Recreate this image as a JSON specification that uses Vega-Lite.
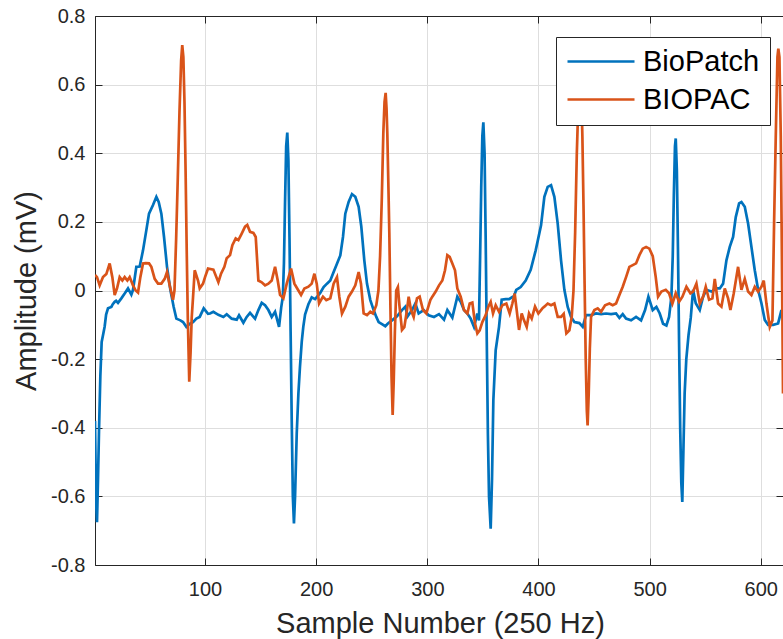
{
  "$schema": "https://vega.github.io/schema/vega-lite/v6.json",
  "width": 688,
  "height": 549,
  "autosize": {"type": "none"},
  "padding": {"left": 95, "top": 16, "right": 0, "bottom": 74},
  "background": "white",
  "config": {
    "view": {"stroke": "#262626", "strokeWidth": 1},
    "font": "Liberation Sans",
    "axis": {
      "labelFont": "Liberation Sans",
      "titleFont": "Liberation Sans",
      "labelColor": "#262626",
      "titleColor": "#262626",
      "domainColor": "#262626",
      "tickColor": "#262626",
      "gridColor": "#dedede",
      "gridWidth": 1,
      "titleFontWeight": "normal",
      "labelFontSize": 20,
      "titleFontSize": 29
    }
  },
  "datasets": {
    "biopatch": [
      {"x":1,"y":-0.38,"c":"BioPatch"},{"x":2,"y":-0.62,"c":"BioPatch"},{"x":2.8,"y":-0.675,"c":"BioPatch"},{"x":3.7,"y":-0.55,"c":"BioPatch"},{"x":4.6,"y":-0.41,"c":"BioPatch"},{"x":5.8,"y":-0.25,"c":"BioPatch"},{"x":7,"y":-0.15,"c":"BioPatch"},{"x":8.5,"y":-0.125,"c":"BioPatch"},{"x":9.7,"y":-0.105,"c":"BioPatch"},{"x":11,"y":-0.07,"c":"BioPatch"},{"x":12.7,"y":-0.052,"c":"BioPatch"},{"x":15.7,"y":-0.048,"c":"BioPatch"},{"x":17,"y":-0.04,"c":"BioPatch"},{"x":18.7,"y":-0.033,"c":"BioPatch"},{"x":20,"y":-0.03,"c":"BioPatch"},{"x":21.7,"y":-0.036,"c":"BioPatch"},{"x":24.7,"y":-0.023,"c":"BioPatch"},{"x":27.7,"y":-0.009,"c":"BioPatch"},{"x":30.7,"y":0.006,"c":"BioPatch"},{"x":33.7,"y":-0.012,"c":"BioPatch"},{"x":35.2,"y":0.002,"c":"BioPatch"},{"x":38.2,"y":0.069,"c":"BioPatch"},{"x":41.2,"y":0.07,"c":"BioPatch"},{"x":44.2,"y":0.117,"c":"BioPatch"},{"x":47.2,"y":0.176,"c":"BioPatch"},{"x":49.6,"y":0.224,"c":"BioPatch"},{"x":53.2,"y":0.249,"c":"BioPatch"},{"x":56.2,"y":0.273,"c":"BioPatch"},{"x":58.3,"y":0.258,"c":"BioPatch"},{"x":60.7,"y":0.224,"c":"BioPatch"},{"x":63.1,"y":0.156,"c":"BioPatch"},{"x":65.8,"y":0.069,"c":"BioPatch"},{"x":68.8,"y":0.002,"c":"BioPatch"},{"x":71.8,"y":-0.048,"c":"BioPatch"},{"x":74.2,"y":-0.082,"c":"BioPatch"},{"x":77.8,"y":-0.087,"c":"BioPatch"},{"x":80.2,"y":-0.092,"c":"BioPatch"},{"x":83.2,"y":-0.106,"c":"BioPatch"},{"x":86.2,"y":-0.097,"c":"BioPatch"},{"x":89.2,"y":-0.092,"c":"BioPatch"},{"x":92.2,"y":-0.082,"c":"BioPatch"},{"x":95.2,"y":-0.077,"c":"BioPatch"},{"x":98.8,"y":-0.052,"c":"BioPatch"},{"x":102.7,"y":-0.068,"c":"BioPatch"},{"x":104.5,"y":-0.067,"c":"BioPatch"},{"x":107.5,"y":-0.062,"c":"BioPatch"},{"x":112,"y":-0.071,"c":"BioPatch"},{"x":116.5,"y":-0.077,"c":"BioPatch"},{"x":119.5,"y":-0.069,"c":"BioPatch"},{"x":124,"y":-0.082,"c":"BioPatch"},{"x":128.5,"y":-0.085,"c":"BioPatch"},{"x":130.6,"y":-0.072,"c":"BioPatch"},{"x":134.5,"y":-0.094,"c":"BioPatch"},{"x":137.5,"y":-0.077,"c":"BioPatch"},{"x":140.5,"y":-0.065,"c":"BioPatch"},{"x":145,"y":-0.082,"c":"BioPatch"},{"x":148,"y":-0.057,"c":"BioPatch"},{"x":151,"y":-0.036,"c":"BioPatch"},{"x":154,"y":-0.043,"c":"BioPatch"},{"x":157,"y":-0.057,"c":"BioPatch"},{"x":160,"y":-0.077,"c":"BioPatch"},{"x":163,"y":-0.062,"c":"BioPatch"},{"x":166.6,"y":-0.106,"c":"BioPatch"},{"x":168.5,"y":-0.05,"c":"BioPatch"},{"x":170,"y":-0.018,"c":"BioPatch"},{"x":171,"y":0.08,"c":"BioPatch"},{"x":172,"y":0.26,"c":"BioPatch"},{"x":173,"y":0.42,"c":"BioPatch"},{"x":174,"y":0.46,"c":"BioPatch"},{"x":175,"y":0.38,"c":"BioPatch"},{"x":176,"y":0.15,"c":"BioPatch"},{"x":177,"y":-0.12,"c":"BioPatch"},{"x":178,"y":-0.38,"c":"BioPatch"},{"x":179,"y":-0.6,"c":"BioPatch"},{"x":180,"y":-0.679,"c":"BioPatch"},{"x":181,"y":-0.6,"c":"BioPatch"},{"x":182.5,"y":-0.417,"c":"BioPatch"},{"x":184,"y":-0.3,"c":"BioPatch"},{"x":185.4,"y":-0.223,"c":"BioPatch"},{"x":187,"y":-0.15,"c":"BioPatch"},{"x":188.4,"y":-0.106,"c":"BioPatch"},{"x":190,"y":-0.07,"c":"BioPatch"},{"x":193,"y":-0.04,"c":"BioPatch"},{"x":196,"y":-0.02,"c":"BioPatch"},{"x":199,"y":-0.025,"c":"BioPatch"},{"x":203.5,"y":-0.008,"c":"BioPatch"},{"x":206.7,"y":0.01,"c":"BioPatch"},{"x":209.7,"y":0.02,"c":"BioPatch"},{"x":212.7,"y":0.029,"c":"BioPatch"},{"x":215.7,"y":0.054,"c":"BioPatch"},{"x":218.7,"y":0.078,"c":"BioPatch"},{"x":221.7,"y":0.102,"c":"BioPatch"},{"x":224.1,"y":0.156,"c":"BioPatch"},{"x":226.2,"y":0.224,"c":"BioPatch"},{"x":229.2,"y":0.258,"c":"BioPatch"},{"x":232.2,"y":0.281,"c":"BioPatch"},{"x":235.2,"y":0.273,"c":"BioPatch"},{"x":238.2,"y":0.244,"c":"BioPatch"},{"x":240.6,"y":0.186,"c":"BioPatch"},{"x":243.3,"y":0.088,"c":"BioPatch"},{"x":245.7,"y":0.02,"c":"BioPatch"},{"x":248.7,"y":-0.028,"c":"BioPatch"},{"x":251.7,"y":-0.057,"c":"BioPatch"},{"x":254.1,"y":-0.077,"c":"BioPatch"},{"x":256.2,"y":-0.092,"c":"BioPatch"},{"x":259.2,"y":-0.098,"c":"BioPatch"},{"x":262.2,"y":-0.104,"c":"BioPatch"},{"x":264.3,"y":-0.097,"c":"BioPatch"},{"x":268.2,"y":-0.087,"c":"BioPatch"},{"x":272.7,"y":-0.075,"c":"BioPatch"},{"x":277.2,"y":-0.057,"c":"BioPatch"},{"x":280.2,"y":-0.047,"c":"BioPatch"},{"x":282.3,"y":-0.075,"c":"BioPatch"},{"x":286.2,"y":-0.057,"c":"BioPatch"},{"x":289.2,"y":-0.038,"c":"BioPatch"},{"x":292.2,"y":-0.067,"c":"BioPatch"},{"x":296.7,"y":-0.057,"c":"BioPatch"},{"x":301.2,"y":-0.072,"c":"BioPatch"},{"x":306,"y":-0.077,"c":"BioPatch"},{"x":310.5,"y":-0.069,"c":"BioPatch"},{"x":315,"y":-0.085,"c":"BioPatch"},{"x":318,"y":-0.057,"c":"BioPatch"},{"x":322.5,"y":-0.079,"c":"BioPatch"},{"x":327,"y":-0.018,"c":"BioPatch"},{"x":330,"y":-0.033,"c":"BioPatch"},{"x":333,"y":-0.057,"c":"BioPatch"},{"x":336,"y":-0.067,"c":"BioPatch"},{"x":339,"y":-0.082,"c":"BioPatch"},{"x":342,"y":-0.106,"c":"BioPatch"},{"x":345,"y":-0.067,"c":"BioPatch"},{"x":346.5,"y":-0.087,"c":"BioPatch"},{"x":347.5,"y":0.1,"c":"BioPatch"},{"x":348.5,"y":0.3,"c":"BioPatch"},{"x":349.5,"y":0.45,"c":"BioPatch"},{"x":350.4,"y":0.49,"c":"BioPatch"},{"x":351.5,"y":0.4,"c":"BioPatch"},{"x":352.5,"y":0.15,"c":"BioPatch"},{"x":353.5,"y":-0.15,"c":"BioPatch"},{"x":354.5,"y":-0.42,"c":"BioPatch"},{"x":355.5,"y":-0.6,"c":"BioPatch"},{"x":357,"y":-0.694,"c":"BioPatch"},{"x":358.2,"y":-0.55,"c":"BioPatch"},{"x":359.4,"y":-0.32,"c":"BioPatch"},{"x":361.5,"y":-0.174,"c":"BioPatch"},{"x":364.5,"y":-0.106,"c":"BioPatch"},{"x":366.9,"y":-0.027,"c":"BioPatch"},{"x":370.5,"y":-0.025,"c":"BioPatch"},{"x":373.5,"y":-0.025,"c":"BioPatch"},{"x":378,"y":-0.016,"c":"BioPatch"},{"x":380,"y":0.002,"c":"BioPatch"},{"x":384,"y":0.01,"c":"BioPatch"},{"x":388.5,"y":0.029,"c":"BioPatch"},{"x":393,"y":0.06,"c":"BioPatch"},{"x":397.5,"y":0.117,"c":"BioPatch"},{"x":402.3,"y":0.19,"c":"BioPatch"},{"x":405.3,"y":0.273,"c":"BioPatch"},{"x":408.3,"y":0.302,"c":"BioPatch"},{"x":411.3,"y":0.307,"c":"BioPatch"},{"x":414.3,"y":0.273,"c":"BioPatch"},{"x":417.3,"y":0.195,"c":"BioPatch"},{"x":420.3,"y":0.088,"c":"BioPatch"},{"x":423.3,"y":0.002,"c":"BioPatch"},{"x":426.3,"y":-0.048,"c":"BioPatch"},{"x":429.3,"y":-0.077,"c":"BioPatch"},{"x":432.3,"y":-0.092,"c":"BioPatch"},{"x":436.8,"y":-0.095,"c":"BioPatch"},{"x":439.8,"y":-0.106,"c":"BioPatch"},{"x":442.8,"y":-0.072,"c":"BioPatch"},{"x":447.3,"y":-0.072,"c":"BioPatch"},{"x":451.8,"y":-0.067,"c":"BioPatch"},{"x":456.3,"y":-0.069,"c":"BioPatch"},{"x":460.8,"y":-0.067,"c":"BioPatch"},{"x":465.3,"y":-0.069,"c":"BioPatch"},{"x":469.8,"y":-0.067,"c":"BioPatch"},{"x":472.8,"y":-0.08,"c":"BioPatch"},{"x":475.8,"y":-0.069,"c":"BioPatch"},{"x":478.8,"y":-0.082,"c":"BioPatch"},{"x":483.3,"y":-0.087,"c":"BioPatch"},{"x":487.8,"y":-0.077,"c":"BioPatch"},{"x":492.3,"y":-0.087,"c":"BioPatch"},{"x":495.9,"y":-0.057,"c":"BioPatch"},{"x":498.9,"y":-0.018,"c":"BioPatch"},{"x":502.8,"y":-0.057,"c":"BioPatch"},{"x":506.1,"y":-0.048,"c":"BioPatch"},{"x":509.1,"y":-0.067,"c":"BioPatch"},{"x":512.1,"y":-0.097,"c":"BioPatch"},{"x":515.1,"y":-0.102,"c":"BioPatch"},{"x":517.5,"y":-0.077,"c":"BioPatch"},{"x":519.6,"y":-0.018,"c":"BioPatch"},{"x":520.8,"y":0.1,"c":"BioPatch"},{"x":521.8,"y":0.28,"c":"BioPatch"},{"x":522.8,"y":0.42,"c":"BioPatch"},{"x":523.5,"y":0.443,"c":"BioPatch"},{"x":524.5,"y":0.35,"c":"BioPatch"},{"x":525.5,"y":0.12,"c":"BioPatch"},{"x":526.5,"y":-0.15,"c":"BioPatch"},{"x":527.5,"y":-0.4,"c":"BioPatch"},{"x":528.5,"y":-0.56,"c":"BioPatch"},{"x":529.4,"y":-0.616,"c":"BioPatch"},{"x":530.5,"y":-0.45,"c":"BioPatch"},{"x":531.5,"y":-0.3,"c":"BioPatch"},{"x":533,"y":-0.2,"c":"BioPatch"},{"x":535,"y":-0.13,"c":"BioPatch"},{"x":537,"y":-0.08,"c":"BioPatch"},{"x":539.1,"y":0.002,"c":"BioPatch"},{"x":541.5,"y":-0.037,"c":"BioPatch"},{"x":545.1,"y":-0.057,"c":"BioPatch"},{"x":548.1,"y":-0.018,"c":"BioPatch"},{"x":551.1,"y":0.002,"c":"BioPatch"},{"x":555.6,"y":-0.003,"c":"BioPatch"},{"x":560.1,"y":0.006,"c":"BioPatch"},{"x":563.1,"y":0.006,"c":"BioPatch"},{"x":566.1,"y":0.02,"c":"BioPatch"},{"x":569.1,"y":0.088,"c":"BioPatch"},{"x":572.1,"y":0.127,"c":"BioPatch"},{"x":575.1,"y":0.156,"c":"BioPatch"},{"x":577.5,"y":0.214,"c":"BioPatch"},{"x":580.5,"y":0.254,"c":"BioPatch"},{"x":582.6,"y":0.258,"c":"BioPatch"},{"x":585.6,"y":0.244,"c":"BioPatch"},{"x":588.6,"y":0.195,"c":"BioPatch"},{"x":591.6,"y":0.127,"c":"BioPatch"},{"x":594.6,"y":0.059,"c":"BioPatch"},{"x":597.6,"y":0.002,"c":"BioPatch"},{"x":600.6,"y":-0.037,"c":"BioPatch"},{"x":603.6,"y":-0.086,"c":"BioPatch"},{"x":606.6,"y":-0.1,"c":"BioPatch"},{"x":611.1,"y":-0.1,"c":"BioPatch"},{"x":615.6,"y":-0.096,"c":"BioPatch"},{"x":618.6,"y":-0.057,"c":"BioPatch"},{"x":620,"y":-0.075,"c":"BioPatch"}
    ],
    "biopac": [
      {"x":1,"y":0.045,"c":"BIOPAC"},{"x":2.8,"y":0.039,"c":"BIOPAC"},{"x":5.2,"y":0.015,"c":"BIOPAC"},{"x":8.2,"y":0.039,"c":"BIOPAC"},{"x":11.2,"y":0.048,"c":"BIOPAC"},{"x":14.2,"y":0.079,"c":"BIOPAC"},{"x":16.6,"y":0.039,"c":"BIOPAC"},{"x":18.7,"y":-0.013,"c":"BIOPAC"},{"x":20.8,"y":0.006,"c":"BIOPAC"},{"x":23.2,"y":0.039,"c":"BIOPAC"},{"x":25.6,"y":0.029,"c":"BIOPAC"},{"x":27.7,"y":0.039,"c":"BIOPAC"},{"x":30.1,"y":0.029,"c":"BIOPAC"},{"x":32.2,"y":0.039,"c":"BIOPAC"},{"x":35.2,"y":0.015,"c":"BIOPAC"},{"x":37.6,"y":0.0,"c":"BIOPAC"},{"x":39.7,"y":-0.006,"c":"BIOPAC"},{"x":41.8,"y":0.039,"c":"BIOPAC"},{"x":44.2,"y":0.079,"c":"BIOPAC"},{"x":46.6,"y":0.08,"c":"BIOPAC"},{"x":49.6,"y":0.079,"c":"BIOPAC"},{"x":51.7,"y":0.069,"c":"BIOPAC"},{"x":54.7,"y":0.034,"c":"BIOPAC"},{"x":57.7,"y":0.02,"c":"BIOPAC"},{"x":60.7,"y":0.02,"c":"BIOPAC"},{"x":63.7,"y":0.034,"c":"BIOPAC"},{"x":65.8,"y":0.054,"c":"BIOPAC"},{"x":68.2,"y":0.015,"c":"BIOPAC"},{"x":71.2,"y":-0.027,"c":"BIOPAC"},{"x":72.5,"y":0.0,"c":"BIOPAC"},{"x":74,"y":0.15,"c":"BIOPAC"},{"x":75.5,"y":0.33,"c":"BIOPAC"},{"x":77,"y":0.52,"c":"BIOPAC"},{"x":78.5,"y":0.67,"c":"BIOPAC"},{"x":79.5,"y":0.715,"c":"BIOPAC"},{"x":80.5,"y":0.68,"c":"BIOPAC"},{"x":81.5,"y":0.55,"c":"BIOPAC"},{"x":82.5,"y":0.35,"c":"BIOPAC"},{"x":83.5,"y":0.12,"c":"BIOPAC"},{"x":84.5,"y":-0.08,"c":"BIOPAC"},{"x":85.8,"y":-0.266,"c":"BIOPAC"},{"x":87,"y":-0.18,"c":"BIOPAC"},{"x":88,"y":-0.08,"c":"BIOPAC"},{"x":89.2,"y":-0.02,"c":"BIOPAC"},{"x":90.7,"y":0.059,"c":"BIOPAC"},{"x":93.7,"y":0.029,"c":"BIOPAC"},{"x":95.2,"y":0.006,"c":"BIOPAC"},{"x":98.2,"y":0.02,"c":"BIOPAC"},{"x":100,"y":0.039,"c":"BIOPAC"},{"x":102.7,"y":0.064,"c":"BIOPAC"},{"x":107.5,"y":0.061,"c":"BIOPAC"},{"x":112,"y":0.024,"c":"BIOPAC"},{"x":114.4,"y":0.049,"c":"BIOPAC"},{"x":117.4,"y":0.069,"c":"BIOPAC"},{"x":119.5,"y":0.094,"c":"BIOPAC"},{"x":122.5,"y":0.103,"c":"BIOPAC"},{"x":124.6,"y":0.132,"c":"BIOPAC"},{"x":127.6,"y":0.152,"c":"BIOPAC"},{"x":130,"y":0.147,"c":"BIOPAC"},{"x":133,"y":0.166,"c":"BIOPAC"},{"x":136,"y":0.186,"c":"BIOPAC"},{"x":138,"y":0.191,"c":"BIOPAC"},{"x":140.5,"y":0.171,"c":"BIOPAC"},{"x":143.5,"y":0.168,"c":"BIOPAC"},{"x":145.6,"y":0.156,"c":"BIOPAC"},{"x":148,"y":0.029,"c":"BIOPAC"},{"x":151,"y":0.024,"c":"BIOPAC"},{"x":154,"y":0.015,"c":"BIOPAC"},{"x":157,"y":0.02,"c":"BIOPAC"},{"x":160,"y":0.029,"c":"BIOPAC"},{"x":163,"y":0.069,"c":"BIOPAC"},{"x":165.4,"y":0.029,"c":"BIOPAC"},{"x":167.5,"y":-0.013,"c":"BIOPAC"},{"x":170.5,"y":-0.023,"c":"BIOPAC"},{"x":173.5,"y":0.02,"c":"BIOPAC"},{"x":177.4,"y":0.064,"c":"BIOPAC"},{"x":180.4,"y":0.02,"c":"BIOPAC"},{"x":184,"y":0.0,"c":"BIOPAC"},{"x":186.4,"y":-0.013,"c":"BIOPAC"},{"x":189.4,"y":0.006,"c":"BIOPAC"},{"x":193,"y":0.011,"c":"BIOPAC"},{"x":196,"y":0.02,"c":"BIOPAC"},{"x":198.4,"y":0.049,"c":"BIOPAC"},{"x":200.5,"y":0.02,"c":"BIOPAC"},{"x":202.6,"y":-0.038,"c":"BIOPAC"},{"x":206.1,"y":-0.018,"c":"BIOPAC"},{"x":209.1,"y":-0.028,"c":"BIOPAC"},{"x":212.7,"y":-0.023,"c":"BIOPAC"},{"x":215.7,"y":0.02,"c":"BIOPAC"},{"x":218.7,"y":0.039,"c":"BIOPAC"},{"x":220.8,"y":-0.018,"c":"BIOPAC"},{"x":223.2,"y":-0.067,"c":"BIOPAC"},{"x":226.2,"y":-0.047,"c":"BIOPAC"},{"x":229.2,"y":-0.018,"c":"BIOPAC"},{"x":232.2,"y":-0.003,"c":"BIOPAC"},{"x":235.2,"y":0.015,"c":"BIOPAC"},{"x":238.2,"y":0.054,"c":"BIOPAC"},{"x":240.3,"y":0.02,"c":"BIOPAC"},{"x":242.7,"y":-0.067,"c":"BIOPAC"},{"x":245.7,"y":-0.072,"c":"BIOPAC"},{"x":248.7,"y":-0.062,"c":"BIOPAC"},{"x":251.1,"y":-0.067,"c":"BIOPAC"},{"x":254.1,"y":-0.043,"c":"BIOPAC"},{"x":256,"y":0.0,"c":"BIOPAC"},{"x":257.5,"y":0.1,"c":"BIOPAC"},{"x":259,"y":0.263,"c":"BIOPAC"},{"x":260.4,"y":0.458,"c":"BIOPAC"},{"x":261.5,"y":0.55,"c":"BIOPAC"},{"x":262.5,"y":0.576,"c":"BIOPAC"},{"x":263.3,"y":0.53,"c":"BIOPAC"},{"x":264,"y":0.458,"c":"BIOPAC"},{"x":265,"y":0.3,"c":"BIOPAC"},{"x":265.8,"y":0.17,"c":"BIOPAC"},{"x":266.8,"y":-0.05,"c":"BIOPAC"},{"x":267.8,"y":-0.25,"c":"BIOPAC"},{"x":268.8,"y":-0.363,"c":"BIOPAC"},{"x":269.8,"y":-0.26,"c":"BIOPAC"},{"x":270.8,"y":-0.12,"c":"BIOPAC"},{"x":272,"y":0.0,"c":"BIOPAC"},{"x":273.5,"y":0.01,"c":"BIOPAC"},{"x":275,"y":-0.047,"c":"BIOPAC"},{"x":277.2,"y":-0.115,"c":"BIOPAC"},{"x":279.3,"y":-0.107,"c":"BIOPAC"},{"x":281.7,"y":-0.057,"c":"BIOPAC"},{"x":283.2,"y":-0.018,"c":"BIOPAC"},{"x":285.3,"y":-0.057,"c":"BIOPAC"},{"x":287.7,"y":-0.077,"c":"BIOPAC"},{"x":290.7,"y":-0.023,"c":"BIOPAC"},{"x":293.1,"y":-0.018,"c":"BIOPAC"},{"x":296.1,"y":-0.057,"c":"BIOPAC"},{"x":299.1,"y":-0.067,"c":"BIOPAC"},{"x":302.7,"y":-0.028,"c":"BIOPAC"},{"x":304.5,"y":-0.018,"c":"BIOPAC"},{"x":307.5,"y":-0.003,"c":"BIOPAC"},{"x":310.5,"y":0.015,"c":"BIOPAC"},{"x":313.5,"y":0.029,"c":"BIOPAC"},{"x":315.9,"y":0.059,"c":"BIOPAC"},{"x":318,"y":0.103,"c":"BIOPAC"},{"x":320.1,"y":0.098,"c":"BIOPAC"},{"x":322.5,"y":0.079,"c":"BIOPAC"},{"x":324.9,"y":0.059,"c":"BIOPAC"},{"x":327,"y":0.006,"c":"BIOPAC"},{"x":330,"y":-0.018,"c":"BIOPAC"},{"x":333,"y":-0.057,"c":"BIOPAC"},{"x":336,"y":-0.067,"c":"BIOPAC"},{"x":338.1,"y":-0.038,"c":"BIOPAC"},{"x":340.5,"y":-0.035,"c":"BIOPAC"},{"x":342.9,"y":-0.096,"c":"BIOPAC"},{"x":345,"y":-0.125,"c":"BIOPAC"},{"x":347.1,"y":-0.116,"c":"BIOPAC"},{"x":349.5,"y":-0.092,"c":"BIOPAC"},{"x":352.5,"y":-0.072,"c":"BIOPAC"},{"x":354.9,"y":-0.047,"c":"BIOPAC"},{"x":357,"y":-0.033,"c":"BIOPAC"},{"x":359.1,"y":-0.067,"c":"BIOPAC"},{"x":361.5,"y":-0.043,"c":"BIOPAC"},{"x":364.5,"y":-0.062,"c":"BIOPAC"},{"x":367.5,"y":-0.043,"c":"BIOPAC"},{"x":371.1,"y":-0.038,"c":"BIOPAC"},{"x":374.1,"y":-0.067,"c":"BIOPAC"},{"x":376.5,"y":-0.038,"c":"BIOPAC"},{"x":378.6,"y":-0.009,"c":"BIOPAC"},{"x":380.4,"y":-0.057,"c":"BIOPAC"},{"x":382.5,"y":-0.115,"c":"BIOPAC"},{"x":384.9,"y":-0.067,"c":"BIOPAC"},{"x":387,"y":-0.087,"c":"BIOPAC"},{"x":389.4,"y":-0.106,"c":"BIOPAC"},{"x":391.5,"y":-0.067,"c":"BIOPAC"},{"x":393.9,"y":-0.082,"c":"BIOPAC"},{"x":396.9,"y":-0.047,"c":"BIOPAC"},{"x":399.9,"y":-0.067,"c":"BIOPAC"},{"x":403.5,"y":-0.052,"c":"BIOPAC"},{"x":405.3,"y":-0.047,"c":"BIOPAC"},{"x":408.3,"y":-0.038,"c":"BIOPAC"},{"x":411.3,"y":-0.043,"c":"BIOPAC"},{"x":414.3,"y":-0.038,"c":"BIOPAC"},{"x":417.3,"y":-0.077,"c":"BIOPAC"},{"x":420.3,"y":-0.077,"c":"BIOPAC"},{"x":422.7,"y":-0.068,"c":"BIOPAC"},{"x":425.1,"y":-0.125,"c":"BIOPAC"},{"x":427.8,"y":-0.116,"c":"BIOPAC"},{"x":429.9,"y":-0.077,"c":"BIOPAC"},{"x":431.5,"y":0.0,"c":"BIOPAC"},{"x":433,"y":0.17,"c":"BIOPAC"},{"x":434.5,"y":0.4,"c":"BIOPAC"},{"x":436,"y":0.56,"c":"BIOPAC"},{"x":437.5,"y":0.62,"c":"BIOPAC"},{"x":438.5,"y":0.58,"c":"BIOPAC"},{"x":439.5,"y":0.45,"c":"BIOPAC"},{"x":440.5,"y":0.25,"c":"BIOPAC"},{"x":441.5,"y":0.02,"c":"BIOPAC"},{"x":442.5,"y":-0.2,"c":"BIOPAC"},{"x":443.5,"y":-0.35,"c":"BIOPAC"},{"x":444.2,"y":-0.393,"c":"BIOPAC"},{"x":445.2,"y":-0.3,"c":"BIOPAC"},{"x":446.2,"y":-0.17,"c":"BIOPAC"},{"x":447.3,"y":-0.077,"c":"BIOPAC"},{"x":450.3,"y":-0.057,"c":"BIOPAC"},{"x":453.3,"y":-0.052,"c":"BIOPAC"},{"x":456.3,"y":-0.062,"c":"BIOPAC"},{"x":459.9,"y":-0.043,"c":"BIOPAC"},{"x":463.8,"y":-0.038,"c":"BIOPAC"},{"x":466.8,"y":-0.043,"c":"BIOPAC"},{"x":469.8,"y":-0.038,"c":"BIOPAC"},{"x":472.8,"y":-0.013,"c":"BIOPAC"},{"x":475.8,"y":0.011,"c":"BIOPAC"},{"x":478.8,"y":0.039,"c":"BIOPAC"},{"x":481.8,"y":0.069,"c":"BIOPAC"},{"x":484.8,"y":0.074,"c":"BIOPAC"},{"x":487.8,"y":0.079,"c":"BIOPAC"},{"x":490.8,"y":0.103,"c":"BIOPAC"},{"x":493.8,"y":0.122,"c":"BIOPAC"},{"x":496.8,"y":0.127,"c":"BIOPAC"},{"x":499.8,"y":0.122,"c":"BIOPAC"},{"x":502.8,"y":0.1,"c":"BIOPAC"},{"x":505.5,"y":0.039,"c":"BIOPAC"},{"x":507.6,"y":-0.018,"c":"BIOPAC"},{"x":510.6,"y":-0.003,"c":"BIOPAC"},{"x":514.5,"y":0.002,"c":"BIOPAC"},{"x":517.5,"y":-0.008,"c":"BIOPAC"},{"x":520.5,"y":-0.038,"c":"BIOPAC"},{"x":523.5,"y":-0.008,"c":"BIOPAC"},{"x":526.5,"y":-0.033,"c":"BIOPAC"},{"x":529.5,"y":-0.018,"c":"BIOPAC"},{"x":533.1,"y":0.011,"c":"BIOPAC"},{"x":536.7,"y":-0.008,"c":"BIOPAC"},{"x":539.1,"y":-0.003,"c":"BIOPAC"},{"x":542.1,"y":0.02,"c":"BIOPAC"},{"x":545.1,"y":-0.038,"c":"BIOPAC"},{"x":548.1,"y":-0.018,"c":"BIOPAC"},{"x":550.5,"y":0.011,"c":"BIOPAC"},{"x":553.5,"y":-0.027,"c":"BIOPAC"},{"x":556.5,"y":-0.023,"c":"BIOPAC"},{"x":558.6,"y":0.034,"c":"BIOPAC"},{"x":561.6,"y":-0.038,"c":"BIOPAC"},{"x":564.6,"y":-0.047,"c":"BIOPAC"},{"x":567.6,"y":0.006,"c":"BIOPAC"},{"x":570.6,"y":-0.023,"c":"BIOPAC"},{"x":572.7,"y":-0.057,"c":"BIOPAC"},{"x":575.7,"y":-0.008,"c":"BIOPAC"},{"x":579.6,"y":0.069,"c":"BIOPAC"},{"x":582.6,"y":0.002,"c":"BIOPAC"},{"x":585.6,"y":0.034,"c":"BIOPAC"},{"x":588.6,"y":-0.003,"c":"BIOPAC"},{"x":591.6,"y":-0.013,"c":"BIOPAC"},{"x":594.6,"y":0.011,"c":"BIOPAC"},{"x":597.6,"y":-0.003,"c":"BIOPAC"},{"x":600.6,"y":0.011,"c":"BIOPAC"},{"x":602.7,"y":0.029,"c":"BIOPAC"},{"x":605.1,"y":-0.038,"c":"BIOPAC"},{"x":608.1,"y":-0.106,"c":"BIOPAC"},{"x":610.5,"y":-0.087,"c":"BIOPAC"},{"x":612,"y":0.2,"c":"BIOPAC"},{"x":613.5,"y":0.45,"c":"BIOPAC"},{"x":615,"y":0.68,"c":"BIOPAC"},{"x":615.8,"y":0.705,"c":"BIOPAC"},{"x":616.8,"y":0.68,"c":"BIOPAC"},{"x":618,"y":0.45,"c":"BIOPAC"},{"x":619,"y":0.1,"c":"BIOPAC"},{"x":620,"y":-0.3,"c":"BIOPAC"}
    ]
  },
  "layer": [
    {
      "data": {"name": "biopatch"},
      "mark": {"type": "line", "strokeWidth": 2.7, "clip": true},
      "encoding": {
        "x": {
          "field": "x", "type": "quantitative",
          "scale": {"domain": [1, 620], "nice": false, "zero": false},
          "axis": {
            "orient": "bottom",
            "values": [100, 200, 300, 400, 500, 600],
            "grid": true,
            "tickSize": -7,
            "labelPadding": 21,
            "title": "Sample Number (250 Hz)",
            "titleBaseline": "alphabetic",
            "titleX": 345,
            "titleY": 67,
            "titleAnchor": "middle",
            "titleAlign": "center"
          }
        },
        "y": {
          "field": "y", "type": "quantitative",
          "scale": {"domain": [-0.8, 0.8], "nice": false, "zero": false},
          "axis": {
            "orient": "left",
            "values": [-0.8, -0.6, -0.4, -0.2, 0, 0.2, 0.4, 0.6, 0.8],
            "labelExpr": "datum.value == 0 ? '0' : (datum.value < 0 ? '-' + format(-datum.value, '.1f') : format(datum.value, '.1f'))",
            "grid": true,
            "tickSize": -7,
            "labelPadding": 17,
            "title": "Amplitude (mV)",
            "titleBaseline": "alphabetic",
            "titleAngle": -90,
            "titleX": -60,
            "titleY": 274.5,
            "titleAlign": "center"
          }
        },
        "color": {
          "field": "c", "type": "nominal",
          "scale": {"domain": ["BioPatch", "BIOPAC"], "range": ["#0072BD", "#D95319"]},
          "legend": {
            "orient": "none",
            "legendX": 461,
            "legendY": 21,
            "title": null,
            "fillColor": "white",
            "strokeColor": "#262626",
            "padding": 10,
            "symbolType": "stroke",
            "symbolSize": 4489,
            "symbolStrokeWidth": 2.7,
            "labelFontSize": 29,
            "labelFont": "Liberation Sans",
            "labelColor": "#000000",
            "labelOffset": 7,
            "clipHeight": 29,
            "rowPadding": 8
          }
        }
      }
    },
    {
      "data": {"name": "biopac"},
      "mark": {"type": "line", "strokeWidth": 2.7, "clip": true},
      "encoding": {
        "x": {
          "field": "x", "type": "quantitative",
          "axis": {
            "orient": "top",
            "values": [100, 200, 300, 400, 500, 600],
            "grid": false,
            "labels": false,
            "tickSize": -7,
            "title": null
          }
        },
        "y": {
          "field": "y", "type": "quantitative",
          "axis": {
            "orient": "right",
            "values": [-0.8, -0.6, -0.4, -0.2, 0, 0.2, 0.4, 0.6, 0.8],
            "grid": false,
            "labels": false,
            "tickSize": -7,
            "title": null
          }
        },
        "color": {"field": "c", "type": "nominal"}
      }
    }
  ],
  "resolve": {"axis": {"x": "independent", "y": "independent"}}
}
